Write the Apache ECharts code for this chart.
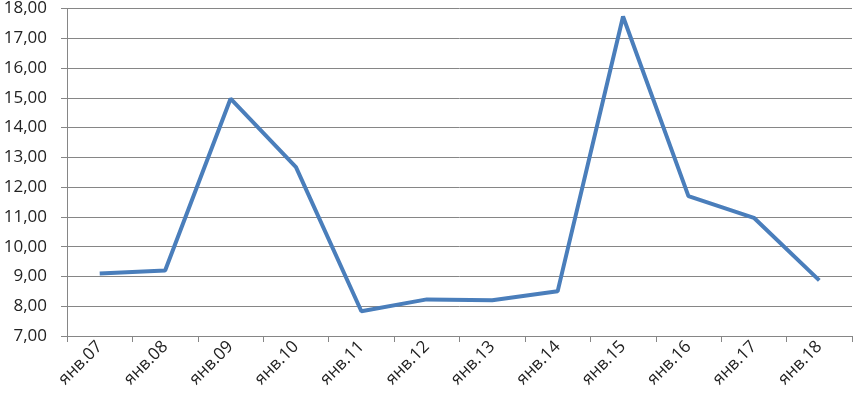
<!DOCTYPE html>
<html>
<head>
<meta charset="utf-8">
<script src="https://cdn.jsdelivr.net/npm/echarts@6/dist/echarts.min.js"></script>
<style>
  html, body { margin: 0; padding: 0; background: #fff; }
  #chart { width: 853px; height: 406px; }
</style>
</head>
<body>
<div id="chart"></div>
<script>
var categories = ['янв.07','янв.08','янв.09','янв.10','янв.11','янв.12','янв.13','янв.14','янв.15','янв.16','янв.17','янв.18'];
var values = [9.10, 9.20, 14.97, 12.67, 7.83, 8.23, 8.20, 8.50, 17.73, 11.70, 10.97, 8.87];

var myChart = echarts.init(document.getElementById('chart'));
var option = {
    animation: false,
    grid: { left: 67, right: 1, top: 6, bottom: 70 },
    xAxis: {
        type: 'category',
        data: categories,
        boundaryGap: true,
        axisLine: { lineStyle: { color: '#868686', width: 1 } },
        axisTick: { show: true, length: 6, lineStyle: { color: '#868686' } },
        axisLabel: {
            rotate: 45,
            color: '#222',
            fontSize: 17,
            fontFamily: 'Open Sans',
            margin: 8
        },
        splitLine: { show: false }
    },
    yAxis: {
        type: 'value',
        min: 7,
        max: 18,
        interval: 1,
        axisLine: { show: true, lineStyle: { color: '#868686', width: 1 } },
        axisTick: { show: true, length: 6, lineStyle: { color: '#868686' } },
        axisLabel: {
            color: '#222',
            fontSize: 17,
            fontFamily: 'Open Sans',
            margin: 20,
            formatter: function (v) { return v.toFixed(2).replace('.', ','); }
        },
        splitLine: { lineStyle: { color: '#868686', width: 1 } }
    },
    series: [{
        type: 'line',
        data: values,
        symbol: 'none',
        lineStyle: { color: '#4a7ebb', width: 4 }
    }]
};
myChart.setOption(option);
</script>
</body>
</html>
